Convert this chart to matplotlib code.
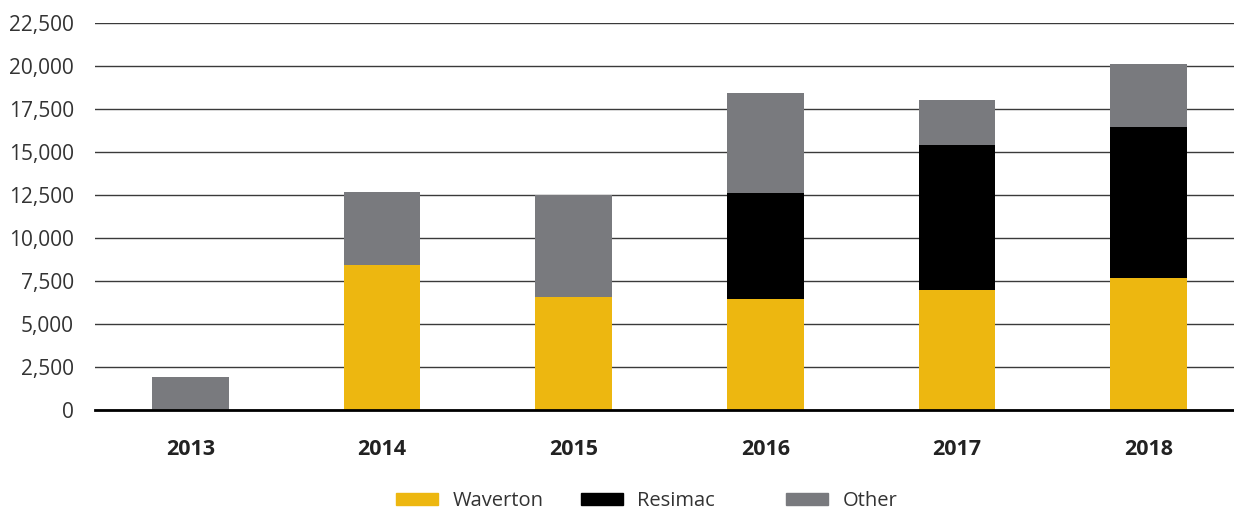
import matplotlib.pyplot as plt
import matplotlib.patches as mpatches
from matplotlib.ticker import FuncFormatter
import numpy as np

plt.rcParams['font.family'] = ['Open Sans', 'DejaVu Sans']

# values
years = ["2013", "2014", "2015", "2016", "2017", "2018"]
waverton = [0, 8430, 6560, 6480, 7000, 7700]
resimac = [0, 0, 0, 6110, 8380, 8730]
other = [1900, 4240, 5940, 5820, 2620, 3670]

series = [("Waverton", waverton, "#EDB710"),
          ("Resimac", resimac, "#000000"),
          ("Other", other, "#797A7E")]

fig = plt.figure(figsize=(12.34, 5.12), dpi=100)
ax = fig.add_axes([94.7 / 1234, 102 / 512, 1139.3 / 1234, 387 / 512])

x = np.arange(len(years))
bottom = np.zeros(len(years))
handles = []
for name, vals, col in series:
    vals = np.array(vals, dtype=float)
    ax.bar(x, vals, width=0.40, bottom=bottom, color=col, zorder=3)
    bottom += vals
    handles.append(mpatches.Patch(color=col, label=name))

# category step is ~191.6 px, axis runs to the right edge of the figure
ax.set_xlim(-0.5, -0.5 + 1139.3 / 191.6)
ax.set_ylim(0, 22500)
ax.set_yticks(np.arange(0, 22501, 2500))
ax.yaxis.set_major_formatter(FuncFormatter(lambda v, p: f"{int(v):,}"))
ax.set_xticks(x)
ax.set_xticklabels(years, fontweight="bold")

ax.grid(axis="y", color="#3a3a3a", linewidth=1.0, zorder=0)
ax.set_axisbelow(True)
for s in ["top", "right", "left"]:
    ax.spines[s].set_visible(False)
ax.spines["bottom"].set_color("black")
ax.spines["bottom"].set_linewidth(2)
ax.spines["bottom"].set_zorder(4)

ax.tick_params(axis="y", length=0, pad=15, labelsize=15, labelcolor="#333333")
ax.tick_params(axis="x", length=0, pad=21, labelsize=15.5, labelcolor="#222222")

# three separate legend entries, placed like the reference
legend_x = [396 / 1234, 581 / 1234, 786 / 1234]
for h, lx in zip(handles, legend_x):
    leg = fig.legend(handles=[h], loc="center left", bbox_to_anchor=(lx, 11 / 512),
                     frameon=False, fontsize=14.5, borderpad=0, borderaxespad=0,
                     handlelength=2.1, handleheight=0.6, handletextpad=0.7)
    for t in leg.get_texts():
        t.set_color("#333333")

fig.savefig("out.png", dpi=100)
